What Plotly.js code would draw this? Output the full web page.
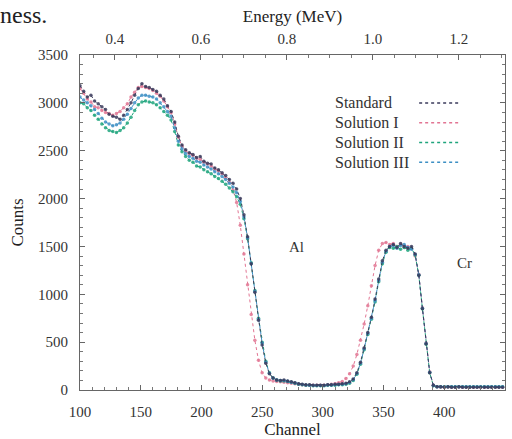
<!DOCTYPE html>
<html>
<head>
<meta charset="utf-8">
<script src="https://cdn.plot.ly/plotly-3.0.1.min.js"></script>
<style>html,body{margin:0;padding:0;background:#fff;}#chart{width:512px;height:439px;}</style>
</head>
<body>
<div id="chart"></div>
<script>
// Channel numbers (x axis)
var channels = [
  100,103,106,109,112,115,118,121,124,127,
  130,133,136,139,142,145,148,151,154,157,
  160,163,166,169,172,175,178,181,184,187,
  190,193,196,199,202,205,208,211,214,217,
  220,223,226,229,232,235,238,241,244,247,
  250,253,256,259,262,265,268,271,274,277,
  280,283,286,289,292,295,298,301,304,307,
  310,313,316,319,322,325,328,331,334,337,
  340,343,346,349,352,355,358,361,364,367,
  370,373,376,379,382,385,388,391,394,397,
  400,403,406,409,412,415,418,421,424,427,
  430,433,436,439,442,445,448
];

var standardCounts = [
  3180,3120,3060,3080,3020,2990,2960,2930,2880,2860,
  2850,2830,2870,2930,3000,3080,3150,3200,3170,3160,
  3140,3120,3080,3040,2970,2910,2800,2650,2560,2510,
  2480,2460,2430,2440,2390,2370,2360,2320,2300,2270,
  2240,2200,2160,2100,2000,1830,1600,1320,1020,730,
  470,280,170,125,105,100,105,95,85,75,
  65,60,55,55,50,50,50,50,55,55,
  60,60,65,70,85,115,180,290,440,600,
  760,950,1160,1350,1460,1500,1520,1490,1530,1500,
  1480,1500,1420,1200,850,480,180,50,35,35,
  30,35,30,30,35,30,30,30,30,30,
  30,30,30,30,30,30,30
];

var solution1Counts = [
  3150,3100,3040,3010,2960,2950,2920,2900,2890,2870,
  2890,2910,2950,2990,3060,3110,3160,3170,3160,3150,
  3130,3100,3070,3020,2960,2900,2780,2640,2550,2500,
  2470,2450,2420,2410,2380,2360,2340,2310,2290,2260,
  2220,2170,2090,1960,1720,1420,1100,790,520,310,
  180,125,105,95,90,85,80,75,70,65,
  60,55,50,50,50,50,50,50,55,60,
  65,75,90,120,170,250,370,520,690,880,
  1090,1300,1460,1530,1540,1520,1530,1500,1520,1490,
  1500,1480,1400,1210,860,490,190,50,35,30,
  30,30,30,30,30,30,30,30,30,30,
  30,30,30,30,30,30,30
];

var solution2Counts = [
  3000,2990,2950,2920,2870,2830,2780,2740,2710,2700,
  2690,2710,2740,2790,2850,2920,2980,3010,3020,3010,
  3000,2980,2950,2910,2870,2820,2700,2560,2490,2440,
  2400,2380,2340,2330,2300,2280,2260,2230,2210,2180,
  2150,2110,2070,2020,1940,1790,1580,1330,1040,750,
  500,300,180,125,105,95,95,90,80,70,
  60,55,50,50,45,45,45,45,50,50,
  50,55,55,60,70,100,165,270,420,580,
  740,920,1130,1320,1440,1490,1480,1500,1470,1490,
  1460,1480,1410,1200,850,480,180,45,35,35,
  35,35,35,35,35,35,35,35,35,35,
  35,35,35,35,35,35,35
];

var solution3Counts = [
  3060,3030,3000,2970,2930,2890,2840,2800,2780,2760,
  2770,2790,2830,2880,2940,3000,3050,3080,3080,3070,
  3060,3040,3000,2960,2910,2860,2740,2600,2520,2470,
  2440,2420,2390,2380,2350,2330,2310,2280,2260,2230,
  2200,2160,2120,2060,1970,1810,1590,1320,1030,740,
  490,290,175,125,105,98,100,92,82,72,
  62,57,52,50,48,48,48,48,52,52,
  55,58,60,65,78,108,172,280,430,590,
  750,935,1145,1335,1450,1500,1510,1480,1510,1520,
  1490,1470,1415,1205,855,485,185,48,35,35,
  35,35,35,35,35,35,35,35,35,35,
  35,35,35,35,35,35,35
];

var seriesNames = ["Standard", "Solution I", "Solution II", "Solution III"];
var seriesColors = ["#3b3b5c", "#e27593", "#1ea47c", "#3d8fc4"];
var seriesData = [standardCounts, solution1Counts, solution2Counts, solution3Counts];

var channelTicks = [100, 150, 200, 250, 300, 350, 400, 450];
var energyTicks = [0.4, 0.6, 0.8, 1.0, 1.2];
var energyTickText = ["0.4", "0.6", "0.8", "1.0", "1.2"];
var countTicks = [0, 500, 1000, 1500, 2000, 2500, 3000, 3500];
var elementLabels = [{text: "Al", channel: 278, counts: 1490}, {text: "Cr", channel: 417, counts: 1330}];

var SERIF = "Liberation Serif, Times New Roman, serif";

var traces = [];
var drawOrder = [1, 2, 3, 0];
drawOrder.forEach(function (i) {
  traces.push({
    x: channels,
    y: seriesData[i],
    name: seriesNames[i],
    type: "scatter",
    mode: "lines+markers",
    line: {color: seriesColors[i], width: 1, dash: "dot"},
    marker: {color: seriesColors[i], size: 3.5, opacity: 0.85},
    showlegend: false,
    xaxis: "x",
    yaxis: "y"
  });
});
// invisible trace to activate the top energy axis
traces.push({x: [0.5], y: [0], xaxis: "x2", yaxis: "y", mode: "markers",
  marker: {opacity: 0}, showlegend: false, hoverinfo: "skip"});

var annotations = [];
var shapes = [];
var legendTop = 0.857, legendStep = 0.059;
seriesNames.forEach(function (name, i) {
  var yy = legendTop - i * legendStep;
  annotations.push({xref: "paper", yref: "paper", x: 0.596, y: yy, xanchor: "left", yanchor: "middle",
    text: name, showarrow: false, font: {family: SERIF, size: 16, color: "#333"}});
  shapes.push({type: "line", xref: "paper", yref: "paper", x0: 0.798, x1: 0.892, y0: yy, y1: yy,
    line: {color: seriesColors[i], width: 1.5, dash: "dot"}});
});
elementLabels.forEach(function (e) {
  annotations.push({xref: "x", yref: "y", x: e.channel, y: e.counts, text: e.text, showarrow: false,
    font: {family: SERIF, size: 15, color: "#333"}});
});
// stray text cropped from the source page
annotations.push({xref: "paper", yref: "paper", x: -0.19, y: 1.162, xanchor: "left", yanchor: "top",
  text: "ness.", showarrow: false, borderpad: 0, font: {family: SERIF, size: 24, color: "#222"}});

var layout = {
  width: 512, height: 439,
  margin: {l: 80, r: 7, t: 55, b: 49, pad: 0},
  paper_bgcolor: "#fff", plot_bgcolor: "#fff",
  font: {family: SERIF, size: 15, color: "#333"},
  showlegend: false,
  xaxis: {
    range: [100, 450], tickvals: channelTicks, ticks: "inside", ticklen: 5, tickcolor: "#666",
    showline: true, linecolor: "#666", linewidth: 1, showgrid: false, zeroline: false,
    minor: {dtick: 10, ticks: "inside", ticklen: 3, tickcolor: "#777", showgrid: false},
    ticklabelstandoff: 8,
    tickfont: {family: SERIF, size: 15, color: "#333"},
    title: {text: "Channel", font: {family: SERIF, size: 17, color: "#222"}, standoff: 2}
  },
  xaxis2: {
    overlaying: "x", side: "top", range: [0.319, 1.307], tickvals: energyTicks, ticktext: energyTickText,
    ticks: "inside", ticklen: 5, tickcolor: "#666", showline: true, linecolor: "#666", linewidth: 1,
    showgrid: false, zeroline: false,
    minor: {dtick: 0.05, ticks: "inside", ticklen: 3, tickcolor: "#777", showgrid: false},
    ticklabelstandoff: 4,
    tickfont: {family: SERIF, size: 15, color: "#333"},
    title: {text: "Energy (MeV)", font: {family: SERIF, size: 17, color: "#222"}, standoff: 4}
  },
  yaxis: {
    range: [0, 3500], tickvals: countTicks, ticks: "inside", ticklen: 5, tickcolor: "#666",
    showline: true, linecolor: "#666", linewidth: 1, mirror: "ticks", showgrid: false, zeroline: false,
    minor: {dtick: 100, ticks: "inside", ticklen: 3, tickcolor: "#777", showgrid: false},
    ticklabelstandoff: 8,
    tickfont: {family: SERIF, size: 15, color: "#333"},
    title: {text: "Counts", font: {family: SERIF, size: 17, color: "#222"}, standoff: 10}
  },
  annotations: annotations,
  shapes: shapes
};

Plotly.newPlot("chart", traces, layout, {displayModeBar: false, staticPlot: true});
</script>
</body>
</html>
